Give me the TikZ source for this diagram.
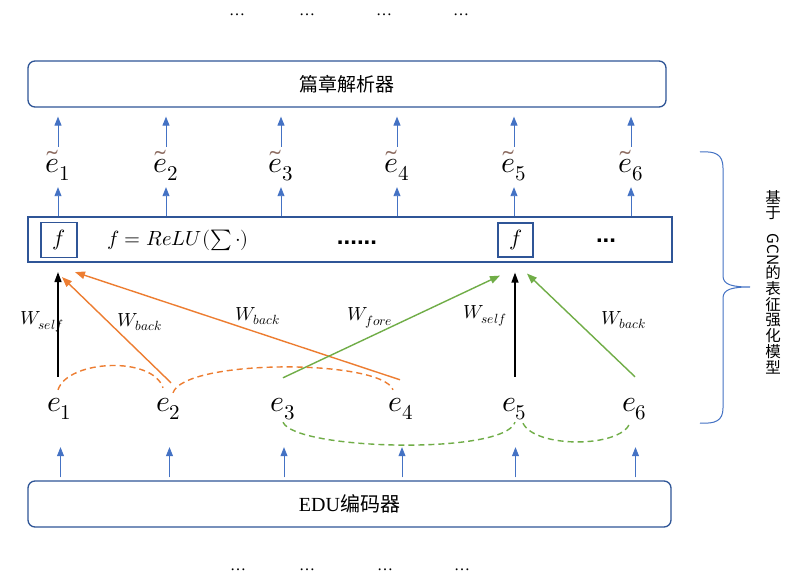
\documentclass[tikz,border=0pt]{standalone}
\usepackage{fontspec}
\usepackage{unicode-math}
\setmainfont{Liberation Serif}
\setmathfont{Latin Modern Math}
\newfontfamily\cjk{Noto Sans CJK SC}
\newfontfamily\sansdots{Liberation Sans}
\usetikzlibrary{arrows.meta,calc}
\definecolor{boxblue}{HTML}{2F5597}
\definecolor{arrblue}{HTML}{4472C4}
\definecolor{orng}{HTML}{ED7D31}
\definecolor{grn}{HTML}{70AD47}
\definecolor{tildecol}{HTML}{8B6A5F}
\newcommand{\ct}[1]{{\color{tildecol}\widetilde{\color{black}#1}}}
\tikzset{
  rbox/.style={draw=boxblue, line width=1.3pt, rounded corners=7pt, inner sep=0pt},
  sbox/.style={draw=boxblue, line width=1.3pt, inner sep=0pt},
  fbox/.style={draw=boxblue, line width=1.2pt, inner sep=0pt, font=\fontsize{22}{24}\selectfont},
  elab/.style={anchor=base, inner sep=0pt, text height=34pt, text depth=10pt, font=\fontsize{30}{32}\selectfont},
  tlab/.style={anchor=base, inner sep=0pt, text height=26pt, text depth=10pt, font=\fontsize{30}{32}\selectfont},
  wlab/.style={inner sep=0pt, font=\fontsize{19}{22}\selectfont},
  barrow/.style={draw=arrblue, line width=0.9pt, -{Triangle[length=9pt,width=7pt]}},
  karrow/.style={draw=black, line width=1.4pt, -{Triangle[length=10pt,width=7pt]}},
  oarrow/.style={draw=orng, line width=1.4pt, -{Triangle[length=10pt,width=7.5pt]}},
  garrow/.style={draw=grn, line width=1.4pt, -{Triangle[length=10pt,width=7.5pt]}},
  odash/.style={draw=orng, line width=1.4pt, dash pattern=on 6pt off 4pt},
  gdash/.style={draw=grn, line width=1.4pt, dash pattern=on 6pt off 4pt},
  dotlab/.style={inner sep=0pt, font=\fontsize{16}{18}\selectfont},
}
\begin{document}
\begin{tikzpicture}[x=1pt,y=-1pt]
\useasboundingbox (0,0) rectangle (785,577);
\fill[white] (0,0) rectangle (785,577);

% top and bottom dots
\node[dotlab] (td1) at (237,15) {\ldots};
\node[dotlab] (td2) at (307,15) {\ldots};
\node[dotlab] (td3) at (384,15) {\ldots};
\node[dotlab] (td4) at (461,15) {\ldots};
\node[dotlab] (bd1) at (238,570) {\ldots};
\node[dotlab] (bd2) at (307,570) {\ldots};
\node[dotlab] (bd3) at (385,570) {\ldots};
\node[dotlab] (bd4) at (462,570) {\ldots};

% boxes
\node[rbox, minimum width=638pt, minimum height=46pt, font=\fontsize{19}{22}\cjk] (parser) at (347,84) {篇章解析器};
\node[sbox, minimum width=644pt, minimum height=45pt] (gcn) at (350,239.5) {};
\node[fbox, minimum width=36pt, minimum height=35pt] (f1) at (59,240) {$f$};
\node[fbox, minimum width=35pt, minimum height=34pt] (f2) at (515.5,240) {$f$};
\node[inner sep=0pt, font=\fontsize{20.5}{22}\selectfont] (relu) at (178,240) {$f = ReLU(\textstyle\sum\cdot)$};
\node[anchor=base, inner sep=0pt, font=\fontsize{24}{26}\sansdots\bfseries] (dots1) at (357,245) {......};
\node[anchor=base, inner sep=0pt, font=\fontsize{24}{26}\sansdots\bfseries] (dots2) at (606,243) {...};
\node[rbox, minimum width=643pt, minimum height=46pt, font=\fontsize{20}{24}\selectfont] (edu) at (349.5,504) {EDU{\cjk 编码器}};

% e tilde labels
\node[tlab] (t1) at (58,173) {$\ct{e}_1$};
\node[tlab] (t2) at (166,173) {$\ct{e}_2$};
\node[tlab] (t3) at (281,173) {$\ct{e}_3$};
\node[tlab] (t4) at (397,173) {$\ct{e}_4$};
\node[tlab] (t5) at (514,173) {$\ct{e}_5$};
\node[tlab] (t6) at (631,173) {$\ct{e}_6$};

% e labels
\node[elab] (e1) at (59.5,412) {$e_1$};
\node[elab] (e2) at (168.5,412) {$e_2$};
\node[elab] (e3) at (283,412) {$e_3$};
\node[elab] (e4) at (401,412) {$e_4$};
\node[elab] (e5) at (514.5,412) {$e_5$};
\node[elab] (e6) at (634.5,412) {$e_6$};

% blue arrows to parser
\foreach \t in {t1,t2,t3,t4,t5,t6}{
  \draw[barrow, shorten >=9pt] (\t.north) -- (parser.south -| \t);
  \draw[barrow, shorten >=4pt] (gcn.north -| \t) -- (\t.south);
}
% blue arrows from EDU encoder
\foreach \e in {e1,e2,e3,e4,e5,e6}{
  \draw[barrow] ($(edu.north -| \e)+(1,-3)$) -- ($(\e.south)+(1,25)$);
}

% weight arrows
\draw[karrow] ($(e1.north)+(-1.5,-1)$) -- ($(f1.south)+(-1,14)$);
\draw[oarrow] ($(e2.north)+(2.5,5)$) -- ($(f1.south)+(3,19)$);
\draw[oarrow] ($(e4.north)+(-1,2)$) -- ($(f1.south)+(16,14)$);
\draw[garrow] (e3.north) -- ($(f2.south)+(-15.5,18)$);
\draw[karrow] ($(e5.north)+(0.5,-1)$) -- ($(f2.south)+(-0.5,15)$);
\draw[garrow] ($(e6.north)+(0.5,-1)$) -- ($(f2.south)+(11.5,16)$);

% weight labels
\node[wlab] (w1) at (42,322) {$W_{self}$};
\node[wlab] (w2) at (140,322) {$W_{back}$};
\node[wlab] (w3) at (258,316) {$W_{back}$};
\node[wlab] (w4) at (370,318) {$W_{fore}$};
\node[wlab] (w5) at (485,316) {$W_{self}$};
\node[wlab] (w6) at (624,320) {$W_{back}$};

% dashed relation arcs
\draw[odash] ($(e1.north)+(-1.5,12)$) .. controls ($(e1.north)+(8.5,-18)$) and ($(e2.north)+(-16,-22)$) .. ($(e2.north)+(-5.5,10)$);
\draw[odash] ($(e2.north)+(4.5,15)$) .. controls ($(e2.north)+(16,-19)$) and ($(e4.north)+(-20,-19)$) .. ($(e4.north)+(-8,12)$);
\draw[gdash] (e3.south) .. controls ($(e3.south)+(12,28)$) and ($(e5.south)+(-10,33)$) .. ($(e5.south)+(0.5,0)$);
\draw[gdash] ($(e5.south)+(8.5,1)$) .. controls ($(e5.south)+(20.5,26)$) and ($(e6.south)+(-14.5,26)$) .. ($(e6.south)+(-4.5,1)$);

% brace
\draw[arrblue, line width=1pt] (700,152) .. controls (715,151) and (723,154) .. (723,168) -- (723,276)
  .. controls (723,285) and (733,287) .. (750,287)
  .. controls (733,287) and (723,289) .. (723,298) -- (723,408)
  .. controls (723,421) and (715,424) .. (700,423);

% vertical label
\node[inner sep=0pt, align=center, font=\fontsize{15.5}{15.8}\cjk] (vlab) at (773,282)
  {基\\于\\[-1pt]\rotatebox{-90}{GCN}\\[-1pt]的\\表\\征\\强\\化\\模\\型};
\end{tikzpicture}
\end{document}
